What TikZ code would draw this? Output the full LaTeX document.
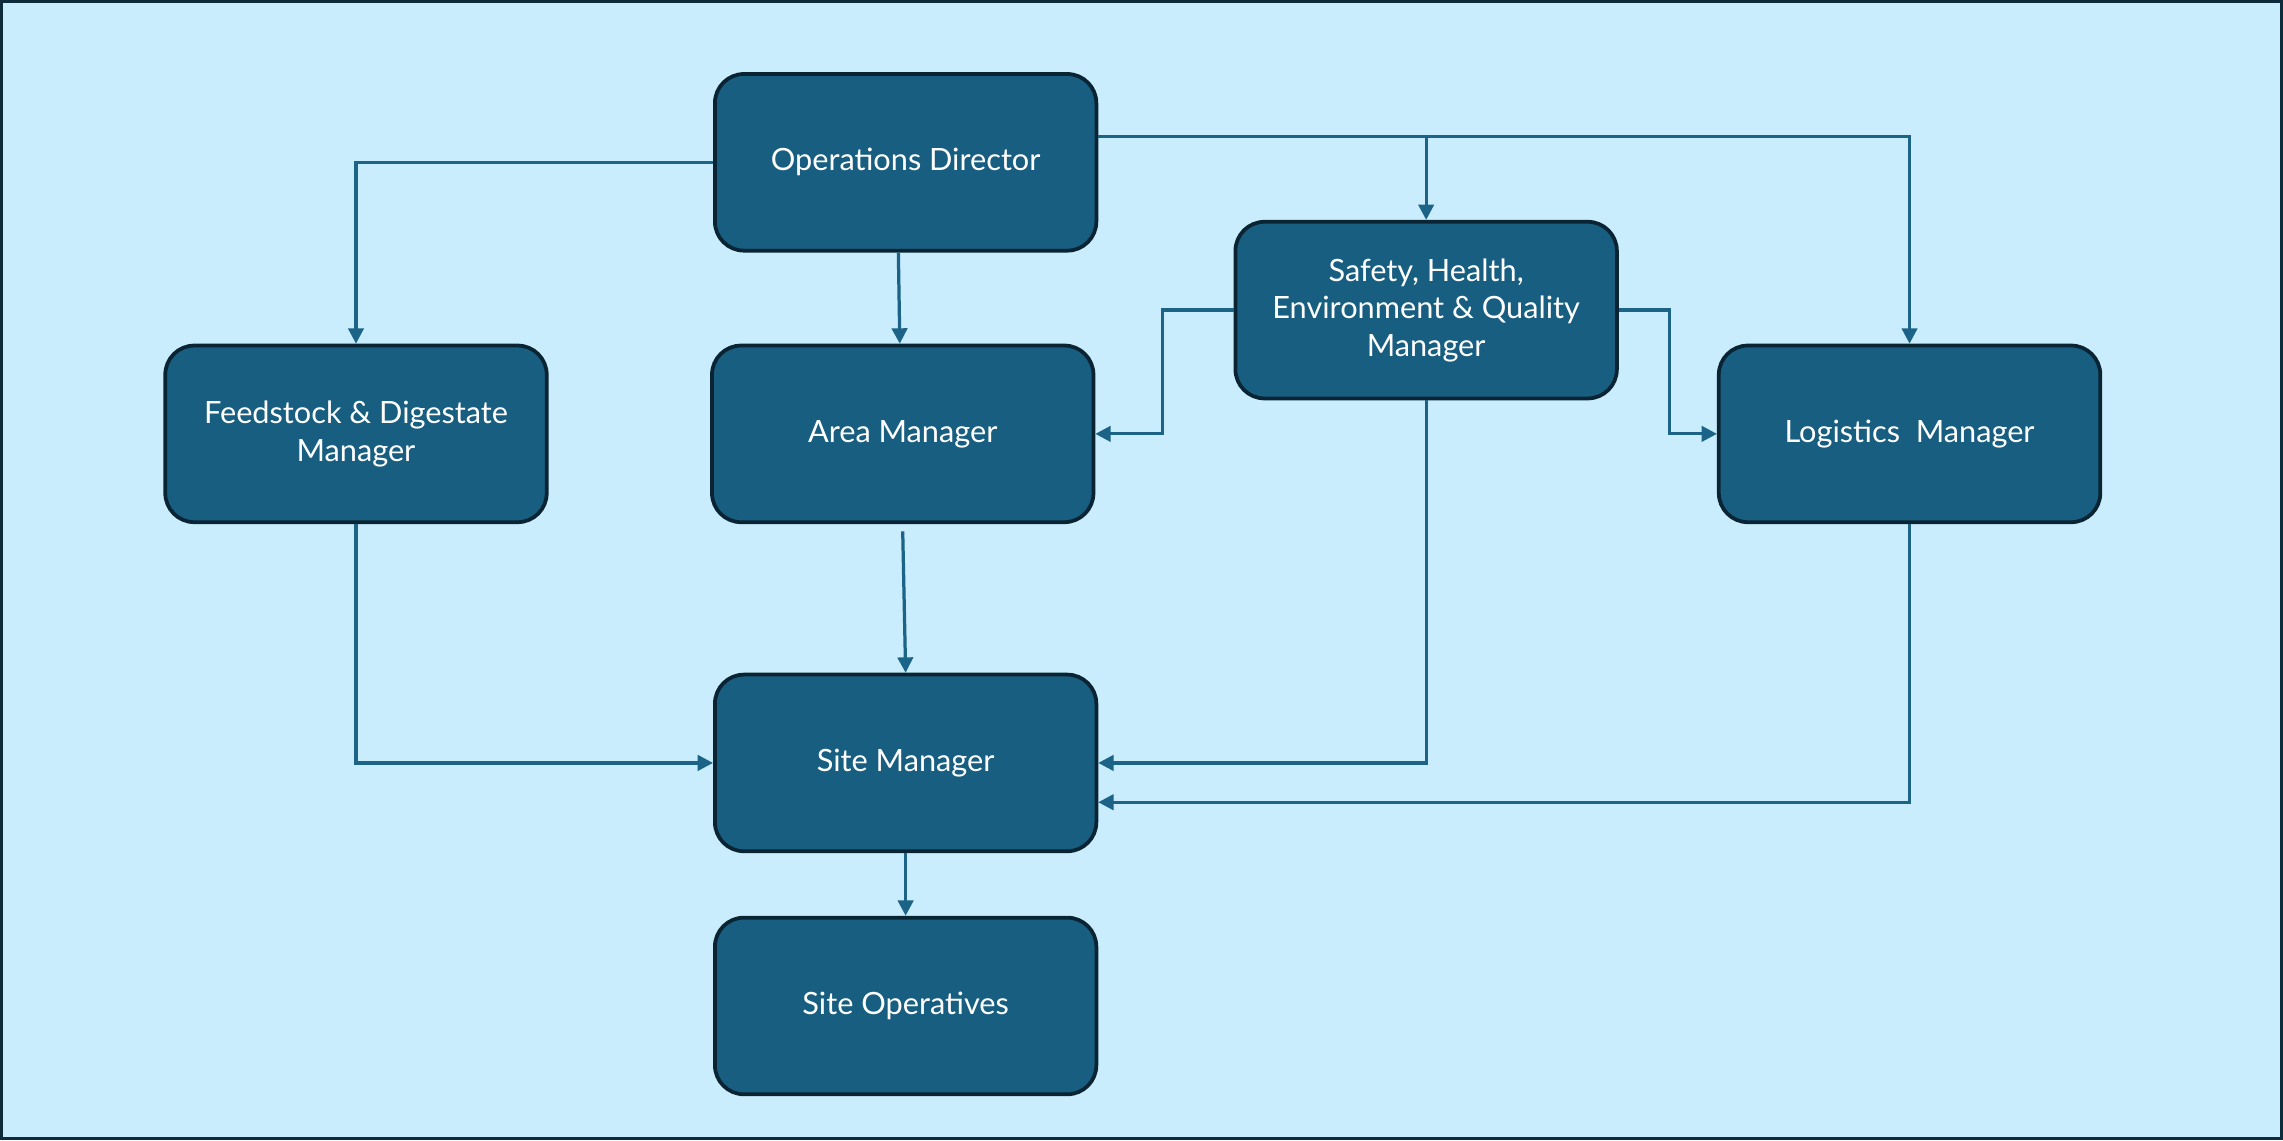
\documentclass[tikz,border=0pt]{standalone}
\usepackage{fontspec}
\setmainfont{Lato}
\usetikzlibrary{calc, positioning}
\usetikzlibrary{arrows.meta}

\definecolor{bgblue}{HTML}{C9EDFC}
\definecolor{boxblue}{HTML}{175E80}
\definecolor{boxedge}{HTML}{0B2434}
\definecolor{linkblue}{HTML}{1B6487}
\definecolor{frameedge}{HTML}{0E2B3B}

\begin{document}
\begin{tikzpicture}[x=0.015cm,y=-0.015cm,
    role/.style={draw=boxedge, fill=boxblue, line width=1.1pt,
        rounded corners=0.3cm, minimum width=3.93cm, minimum height=1.82cm,
        text=white, align=center, inner sep=2pt,
        font=\fontsize{9}{11}\selectfont},
    link/.style={draw=linkblue, line width=0.95pt,
        -{Triangle[length=4.5pt,width=4.5pt]}}]

% Background and frame
\useasboundingbox (0,0) rectangle (1568,783);
\fill[bgblue] (0,0) rectangle (1568,783);
\draw[frameedge, line width=1pt] (1,1) rectangle (1567,782);

% Roles
\node[role] (dir)  at (622,111.5) {Operations Director};
\node[role] (feed) at (244.5,298) {Feedstock \& Digestate\\Manager};
\node[role] (area) at (620,298) {Area Manager};
\node[role] (sheq) at (979.5,213) {Safety, Health,\\Environment \& Quality\\Manager};
\node[role] (logi) at (1311.5,298) {Logistics\ \ Manager};
\node[role] (site) at (622,524) {Site Manager};
\node[role, below=0.645cm of site] (ops) {Site Operatives};

% Lines from the director
\coordinate (dirR) at ($(dir.east)+(0,-17.5)$);
\draw[link] (dir.west) -| (feed.north);
\draw[link] ($(dir.south)+(-5,0)$) -- ($(area.north)+(-2,0)$);
\draw[link] (dirR) -| (logi.north);
\draw[link] (dirR -| sheq.north) -- (sheq.north);

% Lines from the SHEQ manager
\draw[link] (sheq.west) -- ++(-49,0) |- (area.east);
\draw[link] (sheq.east) -- ++(35,0) |- (logi.west);

% Lines into the site manager
\draw[link] ($(area.south)+(0,5)$) -- (site.north);
\draw[link] (feed.south) |- (site.west);
\draw[link] (sheq.south) |- (site.east);
\draw[link] (logi.south) |- ($(site.east)+(0,27)$);
\draw[link] (site.south) -- (ops.north);
\end{tikzpicture}
\end{document}
